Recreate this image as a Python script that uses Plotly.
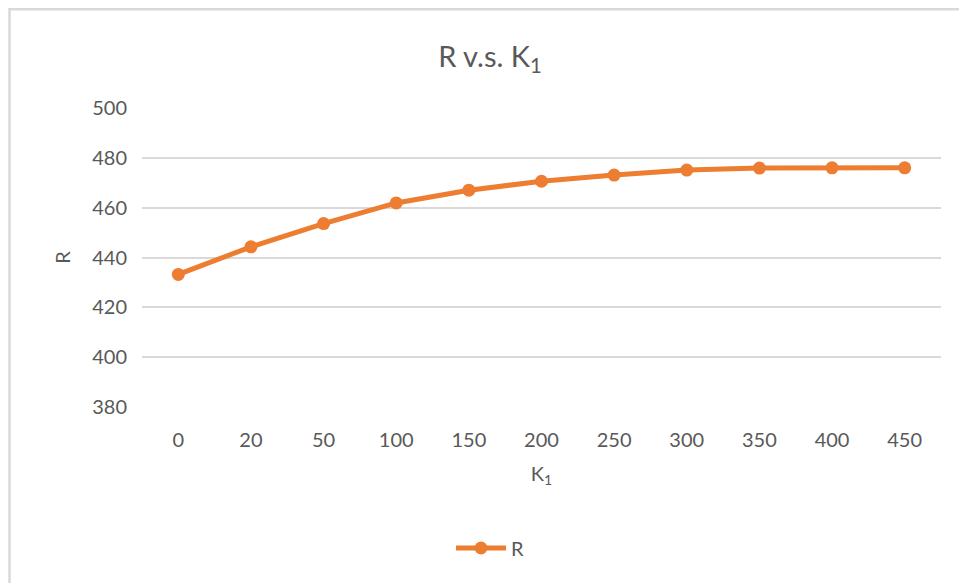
import plotly.graph_objects as go

categories = ["0", "20", "50", "100", "150", "200", "250", "300", "350", "400", "450"]
r_values = [433.2, 444.3, 453.6, 461.9, 467.0, 470.6, 473.1, 475.1, 475.9, 476.0, 476.0]
y_ticks = [380, 400, 420, 440, 460, 480, 500]

TEXT = "#595959"
GRID = "#d9d9d9"
ORANGE = "#ED7D31"
FONT = "Lato, 'Open Sans', sans-serif"

L, R, T, B = 141.6, 17.6, 107.7, 176.3
W, H = 959, 583
pw = W - L - R
ph = H - T - B

fig = go.Figure()
fig.add_trace(go.Scatter(
    x=categories, y=r_values, name="R", mode="lines+markers",
    line=dict(color=ORANGE, width=5),
    marker=dict(color=ORANGE, size=13),
))

fig.update_layout(
    width=W, height=H,
    margin=dict(l=L, r=R, t=T, b=B, pad=0),
    paper_bgcolor="white", plot_bgcolor="white",
    font=dict(family=FONT, color=TEXT, size=20),
    title=dict(text="R v.s. K<sub>1</sub>", x=490 / W, xanchor="center",
               y=1 - 57 / H, yanchor="middle",
               font=dict(size=29, color=TEXT, family=FONT)),
    xaxis=dict(type="category", range=[-0.5, 10.5], showgrid=False,
               showline=False, zeroline=False, ticks="",
               tickfont=dict(size=20, color=TEXT), ticklabelstandoff=19,
               title=dict(text="K<sub>1</sub>", font=dict(size=20, color=TEXT), standoff=16)),
    yaxis=dict(range=[380, 500], tickvals=y_ticks, showgrid=True, gridcolor=GRID,
               gridwidth=2, zeroline=False, showline=False, ticks="",
               tickfont=dict(size=20, color=TEXT), ticklabelstandoff=14,
               title=dict(text="R", font=dict(size=20, color=TEXT), standoff=16)),
    showlegend=True,
    legend=dict(orientation="h", x=490 / W, xref="container", xanchor="center",
                y=1 - 548 / H, yref="container", yanchor="middle",
                font=dict(size=20, color=TEXT), itemwidth=50),
)

# chart-area border (Excel style), in paper coordinates relative to plot area
fig.add_shape(type="rect", xref="paper", yref="paper",
              x0=(9 - L) / pw, x1=(W + 20 - L) / pw,
              y0=(ph + T - (H + 20)) / ph, y1=(ph + T - 9) / ph,
              line=dict(color=GRID, width=2.5), fillcolor="rgba(0,0,0,0)", layer="below")

fig.write_html("out.html")
